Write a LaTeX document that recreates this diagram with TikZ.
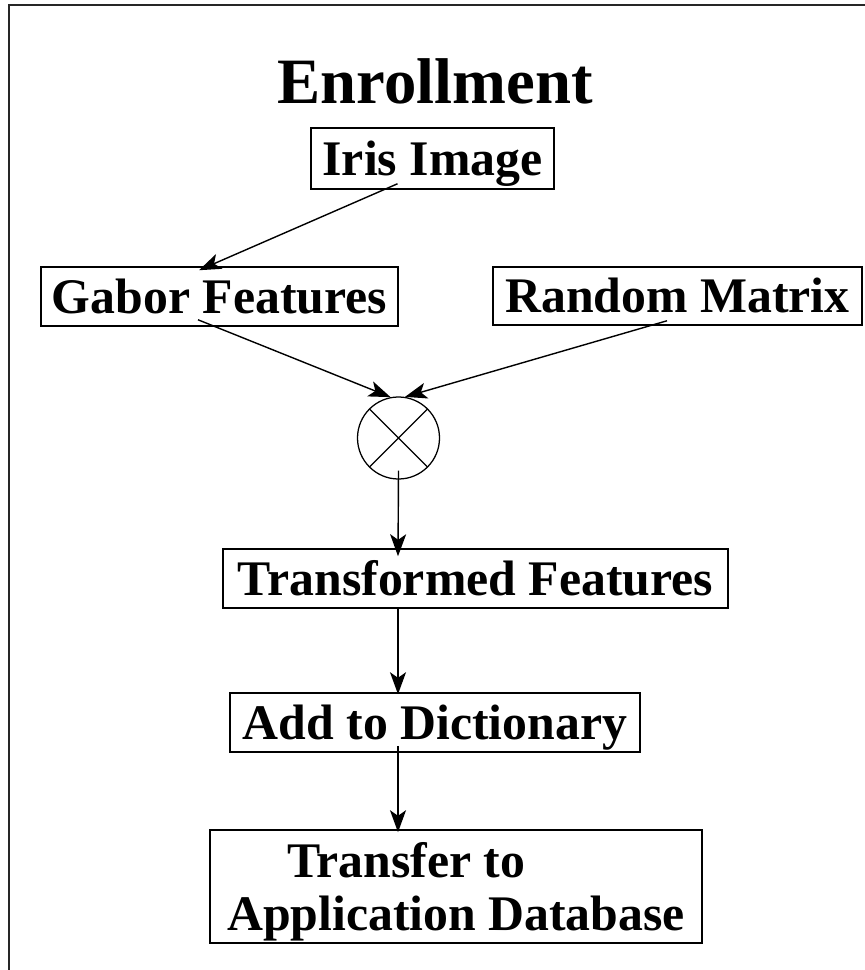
\documentclass[tikz,border=0pt]{standalone}
\usepackage{fontspec}
\setmainfont{Liberation Serif}
\usepackage{tikz}
\usetikzlibrary{positioning,arrows.meta,calc}
\tikzset{
  flowarrow/.style={-{Stealth[length=5.5mm, width=4mm, inset=1.4mm]}, line width=1pt},
  boxnode/.style={draw, line width=1.1pt, inner sep=0pt, align=center, text height=0.84cm, text depth=0pt, font=\fontsize{35.4pt}{37.7pt}\selectfont\bfseries},
  multnode/.style={draw, circle, line width=0.9pt, inner sep=0pt},
  titlenode/.style={inner sep=0pt, font=\fontsize{46pt}{48pt}\selectfont\bfseries}
}
\begin{document}
\begin{tikzpicture}[x=0.025cm, y=-0.025cm]
  \useasboundingbox (0,0) rectangle (864,970);
  % frame
  \draw[line width=1.6pt, black!85] (9,980) |- (875,5);

  \node[titlenode, anchor=base] (title) at (435,104) {Enrollment};
  \node[boxnode, minimum width=243*0.025cm, minimum height=61*0.025cm] (iris) at (432.5,158.5) {Iris Image};
  \node[boxnode, minimum width=357*0.025cm, minimum height=59*0.025cm] (gabor) at (219.5,296.5) {Gabor Features};
  \node[boxnode, minimum width=369*0.025cm, minimum height=58*0.025cm] (random) at (677.5,296) {Random Matrix};
  \node[multnode, minimum size=82*0.025cm] (mult) at (398.5,438) {};
  \draw[line width=0.9pt] ($(mult.center)+(-29,-29)$) -- ($(mult.center)+(29,29)$)
                          ($(mult.center)+(29,-29)$) -- ($(mult.center)+(-29,29)$);
  \node[boxnode, minimum width=505*0.025cm, minimum height=59*0.025cm] (trans) at (475.5,578.5) {Transformed Features};
  \node[boxnode, minimum width=410*0.025cm, minimum height=59*0.025cm] (dict) at (435,722.5) {Add to Dictionary};
  \node[boxnode, text height=, minimum width=492*0.025cm, minimum height=113*0.025cm, align=left] (db) at (456,886.5)
    {\hspace*{1.5cm}Transfer to\\Application Database};

  \draw[flowarrow] ([shift={(-35,-6)}]iris.south) -- ([shift={(-20.5,4)}]gabor.north);
  \draw[flowarrow] ([shift={(-21.5,-7)}]gabor.south) -- (mult.101);
  \draw[flowarrow] ([shift={(-10.5,-5)}]random.south) -- (mult.81);
  \draw[flowarrow] ([shift={(0,-9)}]mult.south) -- ([shift={(-77.5,8)}]trans.north);
  \draw[flowarrow] ([shift={(-77.5,0)}]trans.south) -- ([shift={(-37,2)}]dict.north);
  \draw[flowarrow] ([shift={(-37,-7)}]dict.south) -- ([shift={(-58,3)}]db.north);
\end{tikzpicture}
\end{document}
